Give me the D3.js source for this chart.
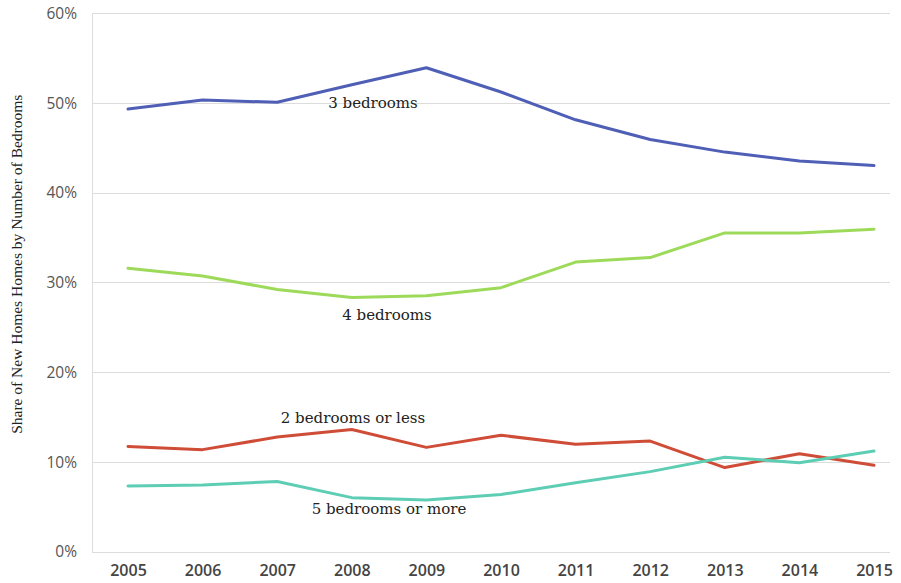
<!DOCTYPE html>
<html>
<head>
<meta charset="utf-8">
<script src="https://cdn.jsdelivr.net/npm/d3@7"></script>
<style>
  html, body { margin: 0; padding: 0; background: #fff; }
  svg { display: block; }
</style>
</head>
<body>
<svg id="chart" width="901" height="583"></svg>
<script>
// Share of new homes by number of bedrooms, 2005–2015 (percent)
const years = [2005, 2006, 2007, 2008, 2009, 2010, 2011, 2012, 2013, 2014, 2015];
const threeBedrooms = [49.3, 50.3, 50.05, 52.0, 53.9, 51.2, 48.1, 45.9, 44.5, 43.5, 43.0];
const fourBedrooms = [31.55, 30.7, 29.2, 28.3, 28.5, 29.4, 32.25, 32.75, 35.5, 35.5, 35.9];
const twoOrLess = [11.7, 11.35, 12.75, 13.6, 11.6, 12.95, 11.95, 12.3, 9.35, 10.9, 9.6];
const fiveOrMore = [7.3, 7.4, 7.8, 6.0, 5.75, 6.35, 7.65, 8.9, 10.5, 9.9, 11.2];
const yTicks = [0, 10, 20, 30, 40, 50, 60];
const seriesNames = ["3 bedrooms", "4 bedrooms", "2 bedrooms or less", "5 bedrooms or more"];

const series = [
  { name: seriesNames[0], values: threeBedrooms, color: "#4f5fb6", label: [373, 108] },
  { name: seriesNames[1], values: fourBedrooms, color: "#9dda5a", label: [387, 320] },
  { name: seriesNames[2], values: twoOrLess, color: "#cf4c36", label: [353, 423] },
  { name: seriesNames[3], values: fiveOrMore, color: "#5dcdb4", label: [389, 514] }
];

const svg = d3.select("#chart");
const plot = { left: 92, right: 890, top: 13, bottom: 551.5 };

const x = d3.scalePoint()
  .domain(years)
  .range([128, 874]);

const y = d3.scaleLinear()
  .domain([0, 60])
  .range([plot.bottom, plot.top]);

// horizontal gridlines
svg.append("g")
  .selectAll("line")
  .data(yTicks)
  .join("line")
  .attr("x1", plot.left)
  .attr("x2", plot.right)
  .attr("y1", d => Math.round(y(d)) + 0.5)
  .attr("y2", d => Math.round(y(d)) + 0.5)
  .attr("stroke", "#dcdcdc")
  .attr("stroke-width", 1);

// left axis line
svg.append("line")
  .attr("x1", plot.left + 0.5).attr("x2", plot.left + 0.5)
  .attr("y1", plot.top).attr("y2", Math.round(plot.bottom) + 0.5)
  .attr("stroke", "#dcdcdc");

// y tick labels
const yAxis = d3.axisLeft(y)
  .tickValues(yTicks)
  .tickFormat(d => d + "%")
  .tickSize(0)
  .tickPadding(15);
const gy = svg.append("g")
  .attr("transform", `translate(${plot.left},0)`)
  .call(yAxis);
gy.select(".domain").remove();
gy.selectAll("text")
  .attr("font-family", "'Open Sans', 'Liberation Sans', sans-serif")
  .attr("font-size", 15.5)
  .attr("fill", "#555")
  .attr("dy", "0.35em");

// x tick labels
const xAxis = d3.axisBottom(x)
  .tickSize(0)
  .tickPadding(13);
const gx = svg.append("g")
  .attr("transform", `translate(0,${plot.bottom})`)
  .call(xAxis);
gx.select(".domain").remove();
gx.selectAll("text")
  .attr("font-family", "'Open Sans', 'Liberation Sans', sans-serif")
  .attr("font-size", 16)
  .attr("font-weight", 600)
  .attr("fill", "#444");

// axis title
svg.append("text")
  .attr("transform", `translate(22,${(plot.top + plot.bottom) / 2 - 18}) rotate(-90)`)
  .attr("text-anchor", "middle")
  .attr("font-family", "'Liberation Serif', 'Times New Roman', serif")
  .attr("font-size", 15.5)
  .attr("fill", "#222")
  .text("Share of New Homes Homes by Number of Bedrooms");

// series lines
const line = d3.line()
  .x((d, i) => x(years[i]))
  .y(d => y(d));

svg.append("g")
  .selectAll("path")
  .data(series)
  .join("path")
  .attr("d", s => line(s.values))
  .attr("fill", "none")
  .attr("stroke", s => s.color)
  .attr("stroke-width", 3)
  .attr("stroke-linejoin", "round")
  .attr("stroke-linecap", "round");

// series labels
svg.append("g")
  .selectAll("text")
  .data(series)
  .join("text")
  .attr("x", s => s.label[0])
  .attr("y", s => s.label[1])
  .attr("text-anchor", "middle")
  .attr("font-family", "'DejaVu Serif', 'Liberation Serif', serif")
  .attr("font-size", 15)
  .attr("fill", "#222")
  .text(s => s.name);
</script>
</body>
</html>
